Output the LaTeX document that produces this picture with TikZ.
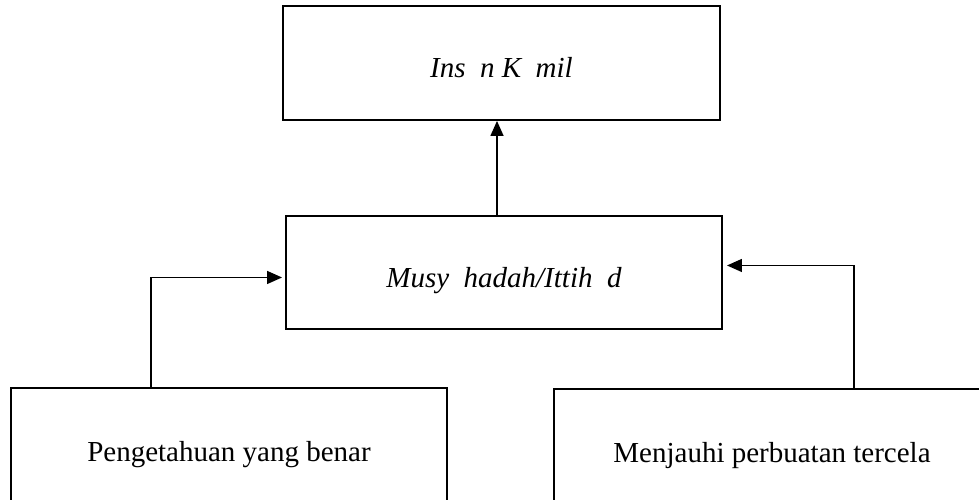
\documentclass[tikz,border=0pt]{standalone}
\usepackage{fontspec}
\setmainfont{Liberation Serif}
\usetikzlibrary{arrows.meta, positioning, calc}

\begin{document}
\begin{tikzpicture}[font=\fontsize{16.5}{19}\selectfont,
        box/.style={rectangle, draw=black, line width=1.1pt, fill=white,
                    minimum width=8.72cm, inner xsep=0pt, inner ysep=0pt, align=center, anchor=north},
        arr/.style={-{Triangle[length=3mm, width=2.6mm]}, line width=0.8pt}
    ]
        \useasboundingbox (0,0) rectangle (19.58,-9.98);
        \node[box, minimum width=8.74cm, text height=1.44cm, text depth=0.84cm] (kamil) at (10.03,-0.10) {\textit{Ins\phantom{a}n K\phantom{a}mil}};
        \node[box, text height=1.44cm, text depth=0.82cm] (musy) at (10.08,-4.30) {\textit{Musy\phantom{a}hadah/Ittih\phantom{a}d}};
        \node[box, text height=1.48cm, text depth=1.30cm] (ilmu) at (4.58,-7.74) {Pengetahuan yang benar};
        \node[box, text height=1.48cm, text depth=1.30cm] (jauhi) at (15.44,-7.76) {Menjauhi perbuatan tercela};

        \draw[arr] ([xshift=-1.4mm]musy.north) -- ([xshift=-1.4mm]musy.north |- kamil.south);
        \draw[arr, shorten >=0.06cm] ([xshift=-1.56cm]ilmu.north) |- ([yshift=-1mm]musy.west);
        \draw[arr, shorten >=0.08cm] ([xshift=1.64cm]jauhi.north) |- ([yshift=1.4mm]musy.east);
    \end{tikzpicture}
\end{document}
